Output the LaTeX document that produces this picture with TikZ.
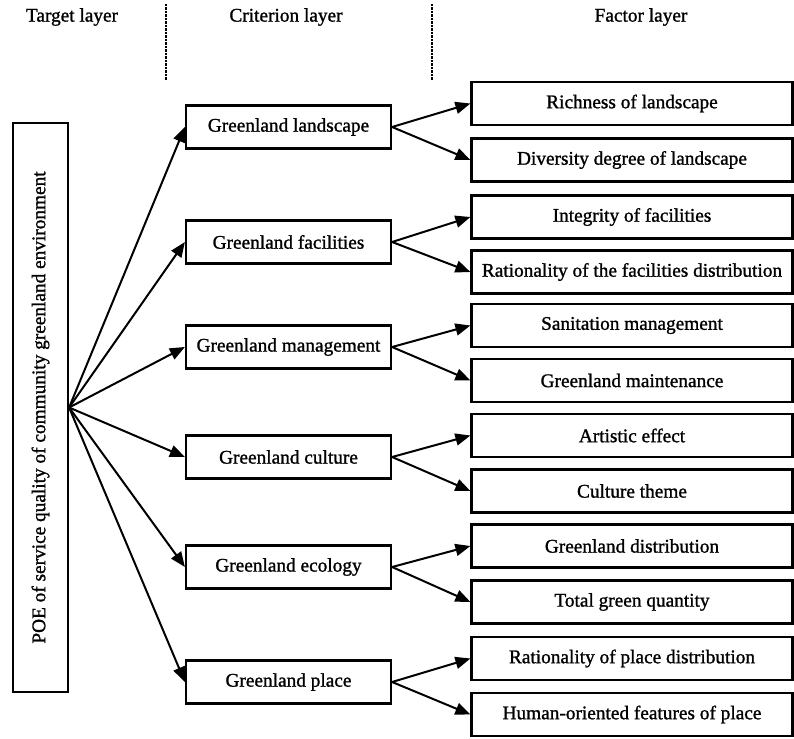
\documentclass[tikz,border=0pt]{standalone}
\usepackage{fontspec}
\setmainfont{Liberation Serif}[FakeBold=1.2]
\usetikzlibrary{arrows.meta}
\begin{document}
\begin{tikzpicture}[x=1pt,y=-1pt,
  every node/.style={font=\fontsize{19.3}{23}\selectfont, inner sep=0pt},
  box/.style={draw, line width=2.2pt, minimum height=43pt},
  crit/.style={box, minimum width=205pt},
  fact/.style={box, minimum width=321pt},
  target/.style={draw, line width=2.2pt, rotate=90, minimum width=569pt, minimum height=55pt},
  head/.style={anchor=center},
  sep/.style={line width=1.5pt, dash pattern=on 2.5pt off 1pt},
  conn/.style={line width=2pt, -{Triangle[length=15pt,width=12pt]}}]
\useasboundingbox (0,0) rectangle (794,738);
% headers
\node[head] (h1) at (72,17) {Target layer};
\node[head] (h2) at (286,17) {Criterion layer};
\node[head] (h3) at (641,17) {Factor layer};
\coordinate (s1a) at (166,4); \coordinate (s1b) at (166,80);
\coordinate (s2a) at (432,4); \coordinate (s2b) at (432,80);
\draw[sep] (s1a) -- (s1b);
\draw[sep] (s2a) -- (s2b);
% target
\node[target] (T) at (40.5,407.5) {POE of service quality of community greenland environment};
% criteria
\node[crit] (c1) at (288.5,127) {Greenland landscape};
\node[crit] (c2) at (288.5,242) {Greenland facilities};
\node[crit] (c3) at (288.5,347) {Greenland management};
\node[crit] (c4) at (288.5,457) {Greenland culture};
\node[crit] (c5) at (288.5,567) {Greenland ecology};
\node[crit] (c6) at (288.5,682) {Greenland place};
% factors
\node[fact] (f1) at (632,103.5) {Richness of landscape};
\node[fact] (f2) at (632,160) {Diversity degree of landscape};
\node[fact] (f3) at (632,217) {Integrity of facilities};
\node[fact] (f4) at (632,272) {Rationality of the facilities distribution};
\node[fact] (f5) at (632,325.5) {Sanitation management};
\node[fact] (f6) at (632,380.5) {Greenland maintenance};
\node[fact] (f7) at (632,435.5) {Artistic effect};
\node[fact] (f8) at (632,491) {Culture theme};
\node[fact] (f9) at (632,546) {Greenland distribution};
\node[fact] (f10) at (632,602) {Total green quantity};
\node[fact] (f11) at (632,658.5) {Rationality of place distribution};
\node[fact] (f12) at (632,714.5) {Human-oriented features of place};
% connectors
\foreach \c in {1,...,6} {\draw[conn] (T.south) -- (c\c.west);}
\foreach \c/\a/\b in {1/1/2,2/3/4,3/5/6,4/7/8,5/9/10,6/11/12} {
  \draw[conn] (c\c.east) -- (f\a.west);
  \draw[conn] (c\c.east) -- (f\b.west);
}
\end{tikzpicture}
\end{document}
